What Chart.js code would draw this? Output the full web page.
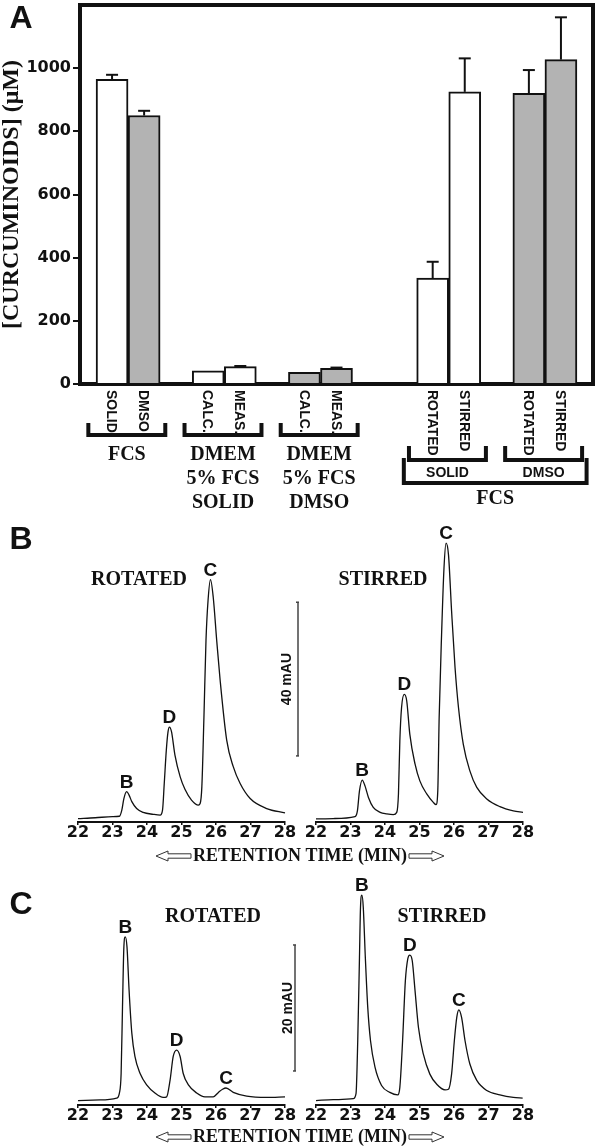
<!DOCTYPE html>
<html>
<head>
<meta charset="utf-8">
<script src="https://cdn.jsdelivr.net/npm/chart.js@4.4.1/dist/chart.umd.min.js"></script>
<style>
html, body { margin: 0; padding: 0; background: #fff; }
#page { position: relative; width: 600px; height: 1148px; overflow: hidden; background: #fff; }
canvas { position: absolute; left: 0; }
</style>
</head>
<body>
<div id="page">
<canvas id="barChart" width="600" height="520" style="top:0px"></canvas>
<canvas id="bRot" width="600" height="365" style="top:505px"></canvas>
<canvas id="bStir" width="600" height="365" style="top:505px"></canvas>
<canvas id="cRot" width="600" height="278" style="top:870px"></canvas>
<canvas id="cStir" width="600" height="278" style="top:870px"></canvas>
</div>
<script>
// ---- Panel A data ----
const barPos = [1, 2, 4, 5, 7, 8, 11, 12, 14, 15];
const barLabels = ['SOLID', 'DMSO', 'CALC.', 'MEAS.', 'CALC.', 'MEAS.', 'ROTATED', 'STIRRED', 'ROTATED', 'STIRRED'];
const barVehicle = ['solid', 'dmso', 'solid', 'solid', 'dmso', 'dmso', 'solid', 'solid', 'dmso', 'dmso'];
const barValues = [965, 850, 42, 55, 37, 50, 335, 925, 920, 1027];
const barErrors = [14, 15, 0, 2, 0, 2, 52, 106, 74, 134];
const yTicksA = [0, 200, 400, 600, 800, 1000];
// groups below the axis (indexes into the bar arrays)
const lowGroups = [[0, 1], [2, 3], [4, 5]];
const lowGroupNames = [['FCS'], ['DMEM', '5% FCS', 'SOLID'], ['DMEM', '5% FCS', 'DMSO']];
const subGroups = [[6, 7], [8, 9]];
const subGroupNames = ['SOLID', 'DMSO'];
const outerGroup = [6, 9];
const outerGroupName = 'FCS';

// ---- Chromatograms (retention time in min, absorbance in mAU) ----
const timeTicks = [22, 23, 24, 25, 26, 27, 28];

const tBRot = [22.0, 22.5, 23.0, 23.2, 23.27, 23.33, 23.41, 23.48, 23.56, 23.7, 23.89, 24.18, 24.38, 24.45, 24.5, 24.56, 24.61, 24.65, 24.71, 24.81, 24.96, 25.1, 25.29, 25.49, 25.54, 25.59, 25.65, 25.71, 25.77, 25.84, 25.92, 26.02, 26.12, 26.31, 26.5, 26.7, 26.99, 27.47, 28.0];
const mauBRot = [-0.3, -0.1, 0.2, 0.3, 1.9, 4.9, 6.7, 5.8, 4.1, 2.3, 1.3, 0.8, 0.6, 1.9, 8.8, 17.5, 22.3, 23.5, 22.3, 16.2, 10.6, 7.3, 4.5, 3.2, 3.6, 8.0, 26.0, 46.1, 56.5, 61.9, 57.3, 46.1, 35.7, 20.1, 13.2, 8.8, 4.9, 2.3, 1.2];

const tBStir = [22.0, 22.5, 23.13, 23.2, 23.26, 23.34, 23.42, 23.52, 23.66, 23.86, 24.05, 24.24, 24.34, 24.39, 24.43, 24.48, 24.56, 24.63, 24.72, 24.87, 25.01, 25.21, 25.4, 25.48, 25.53, 25.57, 25.64, 25.71, 25.77, 25.84, 25.93, 26.03, 26.13, 26.27, 26.46, 26.66, 26.95, 27.33, 27.72, 28.0];
const mauBStir = [-0.4, -0.3, 0.2, 1.7, 6.9, 9.7, 8.2, 5.2, 2.6, 1.3, 0.9, 0.7, 1.3, 6.1, 19.9, 28.6, 32.0, 30.3, 21.6, 13.9, 9.5, 6.1, 3.9, 3.3, 6.9, 26.0, 47.6, 64.9, 71.4, 68.4, 53.7, 39.0, 28.6, 19.0, 12.1, 7.8, 4.8, 2.8, 1.7, 1.3];

const tCRot = [22.0, 22.64, 23.12, 23.2, 23.25, 23.29, 23.33, 23.37, 23.42, 23.48, 23.56, 23.65, 23.8, 23.99, 24.23, 24.47, 24.57, 24.67, 24.76, 24.86, 24.96, 25.05, 25.2, 25.44, 25.68, 25.92, 26.07, 26.19, 26.29, 26.5, 26.89, 27.47, 28.0];
const mauCRot = [-0.1, 0, 0.3, 1.1, 4.2, 14.8, 24.3, 25.9, 24.3, 17.5, 10.6, 6.9, 4.2, 2.4, 1.1, 0.4, 0.5, 3.2, 6.9, 7.9, 6.9, 4.2, 2.4, 1.1, 0.5, 0.5, 1.2, 1.7, 1.9, 1.2, 0.6, 0.4, 0.5];

const tCStir = [22.0, 22.5, 23.08, 23.16, 23.21, 23.26, 23.29, 23.33, 23.37, 23.43, 23.5, 23.58, 23.71, 23.9, 24.14, 24.37, 24.43, 24.51, 24.59, 24.66, 24.72, 24.79, 24.87, 24.97, 25.11, 25.3, 25.5, 25.74, 25.84, 25.93, 26.01, 26.08, 26.14, 26.22, 26.32, 26.46, 26.66, 26.95, 27.33, 27.72, 27.99];
const mauCStir = [-0.1, 0.05, 0.2, 1.0, 9.4, 22.6, 30.6, 32.5, 30.6, 22.6, 14.7, 9.4, 5.2, 2.3, 1.2, 0.8, 2.0, 9.4, 18.9, 22.4, 23.0, 22.1, 17.4, 11.5, 7.3, 4.1, 2.5, 1.6, 1.7, 4.1, 9.4, 13.1, 14.3, 13.1, 9.4, 5.7, 3.1, 1.5, 0.8, 0.4, 0.3];

const peakNames = ['B', 'D', 'C'];
const peakTimesB = [23.4, 24.6, 25.8];
const peakTimesCRot = [23.37, 24.86, 26.29];
const peakTimesCStir = [23.33, 24.72, 26.14];

const INK = '#111';
const GREY = '#b3b3b3';
const SANS = '"Liberation Sans", Arial, sans-serif';
const SERIF = '"Liberation Serif", "Times New Roman", serif';
const DIGITS = '"DejaVu Sans", sans-serif';

function seg(ctx, x0, y0, x1, y1) {
  ctx.beginPath(); ctx.moveTo(x0, y0); ctx.lineTo(x1, y1); ctx.stroke();
}

function bracket(ctx, x0, x1, yTop, yBar) {
  ctx.beginPath();
  ctx.moveTo(x0, yTop); ctx.lineTo(x0, yBar); ctx.lineTo(x1, yBar); ctx.lineTo(x1, yTop);
  ctx.stroke();
}

// Panel A extras: error bars, frame, rotated labels, brackets
const panelA = {
  id: 'panelA',
  afterDatasetsDraw(chart) {
    const { ctx, scales: { x, y } } = chart;
    ctx.save();
    ctx.strokeStyle = INK;
    ctx.lineWidth = 2;
    barValues.forEach((v, i) => {
      if (!barErrors[i]) return;
      const px = x.getPixelForValue(barPos[i]);
      const y0 = y.getPixelForValue(v), y1 = y.getPixelForValue(v + barErrors[i]);
      seg(ctx, px, y0, px, y1);
      seg(ctx, px - 6, y1, px + 6, y1);
    });
    ctx.restore();
  },
  afterDraw(chart) {
    const { ctx, chartArea: a, scales: { x } } = chart;
    ctx.save();
    ctx.strokeStyle = INK;
    ctx.lineWidth = 4;
    seg(ctx, a.left - 2, a.top, a.right + 2, a.top);
    seg(ctx, a.right, a.top, a.right, a.bottom + 2);

    ctx.fillStyle = INK;
    ctx.font = 'bold 32px ' + SANS;
    ctx.textAlign = 'center'; ctx.textBaseline = 'middle';
    ctx.fillText('A', 21, 19);

    // rotated category labels
    ctx.font = 'bold 14px ' + SANS;
    barLabels.forEach((lab, i) => {
      ctx.save();
      ctx.translate(x.getPixelForValue(barPos[i]) - 1, a.bottom + 6);
      ctx.rotate(Math.PI / 2);
      ctx.textAlign = 'left'; ctx.textBaseline = 'middle';
      ctx.fillText(lab, 0, 0);
      ctx.restore();
    });

    ctx.lineWidth = 4;
    ctx.lineJoin = 'miter';
    const gx = (i, d) => x.getPixelForValue(barPos[i] + d);
    lowGroups.forEach((g, k) => {
      const x0 = gx(g[0], -0.74), x1 = gx(g[1], 0.66);
      bracket(ctx, x0, x1, 423, 435);
      ctx.font = 'bold 20px ' + SERIF;
      ctx.textAlign = 'center'; ctx.textBaseline = 'middle';
      lowGroupNames[k].forEach((t, j) => ctx.fillText(t, (x0 + x1) / 2, 455 + j * 24));
    });
    subGroups.forEach((g, k) => {
      const x0 = gx(g[0], -0.74), x1 = gx(g[1], 0.66);
      bracket(ctx, x0, x1, 446, 460);
      ctx.font = 'bold 14px ' + SANS;
      ctx.fillText(subGroupNames[k], (x0 + x1) / 2, 473);
    });
    const o0 = gx(outerGroup[0], -0.9), o1 = gx(outerGroup[1], 0.8);
    bracket(ctx, o0, o1, 458, 483);
    ctx.font = 'bold 20px ' + SERIF;
    ctx.fillText(outerGroupName, (o0 + o1) / 2, 499);
    ctx.restore();
  }
};

new Chart(document.getElementById('barChart'), {
  type: 'bar',
  data: {
    datasets: [{
      data: barPos.map((p, i) => ({ x: p, y: barValues[i] })),
      backgroundColor: barVehicle.map(v => v === 'dmso' ? GREY : '#fff'),
      borderColor: INK,
      borderWidth: 2,
      barThickness: 32
    }]
  },
  options: {
    responsive: false,
    animation: false,
    layout: { padding: { left: 0, right: 7, top: 5, bottom: 0 } },
    plugins: { legend: { display: false }, tooltip: { enabled: false } },
    scales: {
      x: {
        type: 'linear', min: 0, max: 16, offset: false,
        ticks: { display: false },
        grid: { display: false },
        border: { color: INK, width: 4 },
        afterFit: s => { s.height = 136; s.paddingLeft = 0; s.paddingRight = 0; }
      },
      y: {
        min: 0, max: 1200,
        afterBuildTicks: s => { s.ticks = yTicksA.map(v => ({ value: v })); },
        ticks: {
          color: INK, padding: 2, font: { family: DIGITS, weight: 'bold', size: 16 },
          callback: v => String(v)
        },
        grid: { drawOnChartArea: false, tickLength: 7, color: INK, lineWidth: 2 },
        border: { color: INK, width: 4 },
        title: {
          display: true, text: '[CURCUMINOIDS] (\u03BCM)', color: INK,
          font: { family: SERIF, weight: 'bold', size: 24, lineHeight: 1 }, padding: 0
        },
        afterFit: s => { s.width = 80; s.paddingTop = 0; s.paddingBottom = 0; }
      }
    }
  },
  plugins: [panelA]
});

// ---- chromatogram decorations ----
function drawArrow(ctx, tipX, cy, dir) {
  const L = 35, head = 12, hh = 5, sh = 2.2;
  const p = [[0, 0], [head, -hh], [head, -sh], [L, -sh], [L, sh], [head, sh], [head, hh]];
  ctx.beginPath();
  p.forEach(([dx, dy], i) => {
    const px = tipX + dir * dx;
    if (i === 0) ctx.moveTo(px, cy + dy); else ctx.lineTo(px, cy + dy);
  });
  ctx.closePath();
  ctx.fillStyle = '#fff'; ctx.fill();
  ctx.strokeStyle = '#333'; ctx.lineWidth = 1; ctx.stroke();
}

function chromDecor(o) {
  return {
    id: 'decor_' + o.key,
    afterDatasetsDraw(chart) {
      const { ctx, scales: { x, y }, chartArea: a } = chart;
      const top = o.canvasTop;
      ctx.save();
      ctx.fillStyle = INK;
      ctx.textAlign = 'center'; ctx.textBaseline = 'middle';
      if (o.letter) {
        ctx.font = 'bold 32px ' + SANS;
        ctx.fillText(o.letter, 21, o.letterY - top);
      }
      ctx.font = 'bold 20px ' + SERIF;
      ctx.fillText(o.title, o.titleX, o.titleY - top);

      // peak letters, placed on top of the nearest local maximum
      const pts = chart.data.datasets[0].data;
      ctx.font = 'bold 19px ' + SANS;
      ctx.textBaseline = 'alphabetic';
      peakNames.forEach((name, i) => {
        let best = null;
        pts.forEach(p => {
          if (Math.abs(p.x - o.peakTimes[i]) < 0.15 && (!best || p.y > best.y)) best = p;
        });
        ctx.fillText(name, x.getPixelForValue(best.x), y.getPixelForValue(best.y) - 4);
      });

      if (o.bar) {
        const bx = a.right + o.bar.dx;
        const y0 = y.getPixelForValue(o.bar.from), y1 = y.getPixelForValue(o.bar.from + o.bar.span);
        ctx.strokeStyle = '#444'; ctx.lineWidth = 1.5;
        seg(ctx, bx, y0, bx, y1);
        seg(ctx, bx - 2, y0, bx + 1, y0);
        seg(ctx, bx - 2, y1, bx + 1, y1);
        ctx.save();
        ctx.translate(a.right + o.bar.labelDx, (y0 + y1) / 2);
        ctx.rotate(-Math.PI / 2);
        ctx.font = 'bold 14px ' + SANS;
        ctx.textBaseline = 'middle';
        ctx.fillText(o.bar.label, 0, 0);
        ctx.restore();
      }

      if (o.retentionY) {
        const cy = o.retentionY - top;
        ctx.font = 'bold 18px ' + SERIF;
        ctx.textBaseline = 'middle';
        const text = 'RETENTION TIME (MIN)';
        const w = ctx.measureText(text).width;
        ctx.fillStyle = INK;
        ctx.fillText(text, 300, cy);
        drawArrow(ctx, 300 - w / 2 - 37, cy, 1);
        drawArrow(ctx, 300 + w / 2 + 37, cy, -1);
      }
      ctx.restore();
    }
  };
}

function chromatogram(o) {
  const pts = o.times.map((t, i) => ({ x: t, y: o.values[i] }));
  return new Chart(document.getElementById(o.key), {
    type: 'line',
    data: {
      datasets: [{
        data: pts, borderColor: INK, borderWidth: 1.3, pointRadius: 0,
        cubicInterpolationMode: 'monotone', clip: false
      }]
    },
    options: {
      responsive: false,
      animation: false,
      layout: { padding: { left: o.left, right: 600 - o.right, top: o.top - o.canvasTop, bottom: o.padBottom } },
      plugins: { legend: { display: false }, tooltip: { enabled: false } },
      scales: {
        x: {
          type: 'linear', min: 22, max: 28,
          afterBuildTicks: s => { s.ticks = timeTicks.map(v => ({ value: v })); },
          ticks: { color: INK, padding: 0, font: { family: DIGITS, weight: 'bold', size: 16, lineHeight: 1 } },
          grid: { drawOnChartArea: false, tickLength: 3, color: INK, lineWidth: 1.5 },
          border: { color: INK, width: 2 },
          afterFit: s => { s.height = 24; }
        },
        y: { display: false, min: o.yMin, max: o.yMax }
      }
    },
    plugins: [chromDecor(o)]
  });
}

chromatogram({
  key: 'bRot', canvasTop: 505, left: 78, right: 285, top: 530, padBottom: 24,
  yMin: -1.2, yMax: 74.8, times: tBRot, values: mauBRot, peakTimes: peakTimesB,
  letter: 'B', letterY: 540, title: 'ROTATED', titleX: 139, titleY: 580,
  bar: { from: 16, span: 40, label: '40 mAU', dx: 13, labelDx: 2 },
  retentionY: 856
});
chromatogram({
  key: 'bStir', canvasTop: 505, left: 316, right: 523, top: 530, padBottom: 24,
  yMin: -1.2, yMax: 74.8, times: tBStir, values: mauBStir, peakTimes: peakTimesB,
  title: 'STIRRED', titleX: 383, titleY: 580
});
chromatogram({
  key: 'cRot', canvasTop: 870, left: 78, right: 285, top: 870, padBottom: 19,
  yMin: -0.8, yMax: 36.5, times: tCRot, values: mauCRot, peakTimes: peakTimesCRot,
  letter: 'C', letterY: 905, title: 'ROTATED', titleX: 213, titleY: 917,
  bar: { from: 4.6, span: 20, label: '20 mAU', dx: 10, labelDx: 3 },
  retentionY: 1137
});
chromatogram({
  key: 'cStir', canvasTop: 870, left: 316, right: 523, top: 870, padBottom: 19,
  yMin: -0.8, yMax: 36.5, times: tCStir, values: mauCStir, peakTimes: peakTimesCStir,
  title: 'STIRRED', titleX: 442, titleY: 917
});
</script>
</body>
</html>
